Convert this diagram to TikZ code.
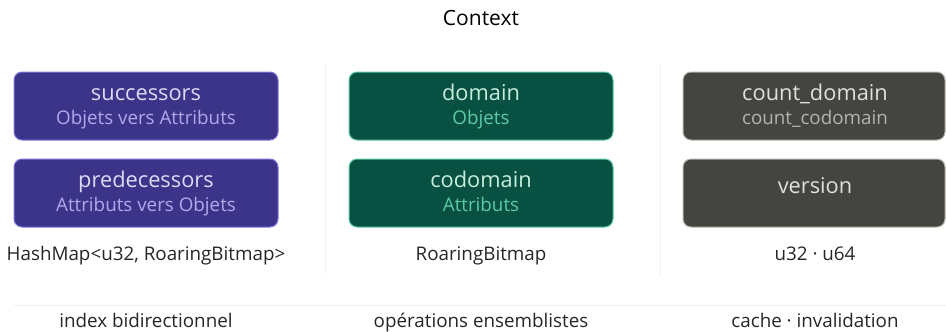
\documentclass[tikz,border=0pt]{standalone}
\usepackage{fontspec}
\setmainfont{Open Sans}
\usetikzlibrary{positioning}
\definecolor{idxfill}{HTML}{3C3489}
\definecolor{idxline}{HTML}{7F77DD}
\definecolor{idxhead}{HTML}{DDDAF7}
\definecolor{idxsub}{HTML}{AFA9EC}
\definecolor{setfill}{HTML}{085041}
\definecolor{setline}{HTML}{5DCAA5}
\definecolor{sethead}{HTML}{C6EEDC}
\definecolor{setsub}{HTML}{5DCAA5}
\definecolor{cchfill}{HTML}{444441}
\definecolor{cchline}{HTML}{B4B2A9}
\definecolor{cchhead}{HTML}{E2E0D8}
\definecolor{cchsub}{HTML}{B4B2A9}
\definecolor{rule}{HTML}{F1EFE8}
\begin{document}
\begin{tikzpicture}[x=1pt, y=-1pt,
    box/.style={draw, rounded corners=8pt, line width=1pt, minimum width=264pt, minimum height=68pt, inner sep=0pt},
    head/.style={font=\fontsize{21.8}{24}\selectfont, inner sep=0pt, anchor=base},
    sub/.style={font=\fontsize{18.8}{21}\selectfont, inner sep=0pt, anchor=base},
    label/.style={font=\fontsize{18.8}{21}\selectfont, text=black!85, inner sep=0pt, anchor=base}]
  \useasboundingbox (0,0) rectangle (946,332);

  \node[font=\fontsize{21}{23}\selectfont, inner sep=0pt, anchor=base] (title) at (481,25) {Context};

  % separators
  \coordinate (s1a) at (325,64);
  \coordinate (s1b) at (325,274);
  \coordinate (s2a) at (660,64);
  \coordinate (s2b) at (660,274);
  \coordinate (ha) at (14,305.5);
  \coordinate (hb) at (946,305.5);
  \draw [rule, line width=1pt] (s1a) -- (s1b);
  \draw [rule, line width=1pt] (s2a) -- (s2b);
  \draw [rule, line width=1pt] (ha) -- (hb);

  % index
  \node[box, fill=idxfill, draw=idxline] (succ) at (146,106) {};
  \node[head, text=idxhead] (succ-h) at (146,100) {successors};
  \node[sub, text=idxsub] (succ-s) at (146,124.5) {Objets vers Attributs};
  \node[box, fill=idxfill, draw=idxline] (pred) at (146,193) {};
  \node[head, text=idxhead] (pred-h) at (146,187) {predecessors};
  \node[sub, text=idxsub] (pred-s) at (146,211.5) {Attributs vers Objets};
  \node[label] (idx-t) at (146,260) {HashMap<u32, RoaringBitmap>};
  \node[label] (idx-b) at (146,327) {index bidirectionnel};

  % ensembles
  \node[box, fill=setfill, draw=setline] (dom) at (481,106) {};
  \node[head, text=sethead] (dom-h) at (481,100) {domain};
  \node[sub, text=setsub] (dom-s) at (481,124.5) {Objets};
  \node[box, fill=setfill, draw=setline] (codom) at (481,193) {};
  \node[head, text=sethead] (codom-h) at (481,187) {codomain};
  \node[sub, text=setsub] (codom-s) at (481,211.5) {Attributs};
  \node[label] (set-t) at (481,260) {RoaringBitmap};
  \node[label] (set-b) at (481,327) {opérations ensemblistes};

  % cache
  \node[box, fill=cchfill, draw=cchline, minimum width=262pt] (cnt) at (814,106) {};
  \node[head, text=cchhead] (cnt-h) at (815,100) {count\_domain};
  \node[sub, text=cchsub] (cnt-s) at (815,124.5) {count\_codomain};
  \node[box, fill=cchfill, draw=cchline, minimum width=262pt] (ver) at (814,193) {};
  \node[head, text=cchhead] (ver-h) at (815,193.5) {version};
  \node[label] (cch-t) at (815,260) {u32 · u64};
  \node[label] (cch-b) at (815,327) {cache · invalidation};
\end{tikzpicture}
\end{document}
